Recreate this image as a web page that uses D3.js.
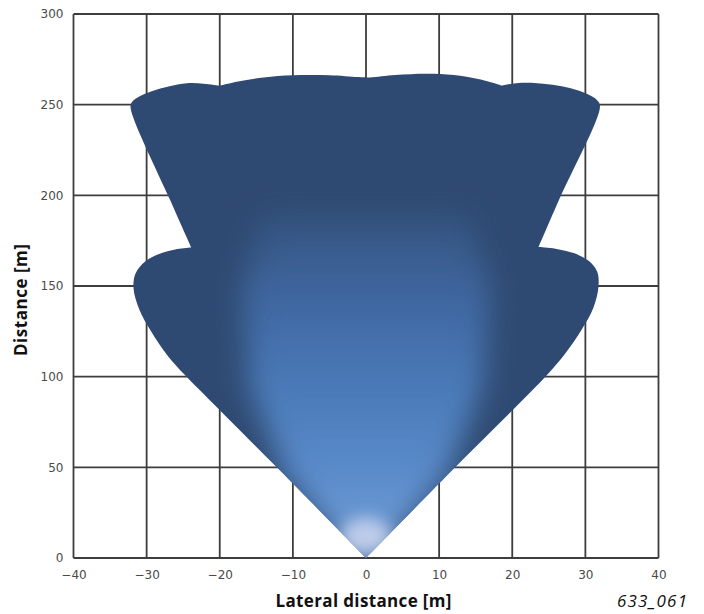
<!DOCTYPE html>
<html><head><meta charset="utf-8">
<script src="https://cdn.jsdelivr.net/npm/d3@7"></script>
<style>html,body{margin:0;padding:0;background:#fff;} svg{display:block}</style>
</head><body>
<svg id="chart" width="704" height="614"></svg>
<script>
// ---- data ----
const xTicks = [-40, -30, -20, -10, 0, 10, 20, 30, 40];
const yTicks = [0, 50, 100, 150, 200, 250, 300];

// outline of the detection area [lateral m, distance m, sharp corner flag]
const coverageOutline = [
  [0, 0, 1], [-12.2, 50], [-21.6, 88], [-24.8, 101], [-27.2, 112], [-29.4, 125],
  [-31, 137], [-31.8, 149], [-31.5, 157], [-30.2, 163.5], [-28.2, 167.8], [-25.8, 170.4], [-23.9, 171.3, 1],
  [-26.8, 197.5], [-32.2, 248.5],
  [-32, 251.5], [-31, 254.5], [-29.2, 257.5], [-27, 260], [-24.5, 261.8], [-22.2, 261.6], [-20, 260.5, 1],
  [-17.5, 262.8], [-14, 265], [-10, 266.2], [-5, 266.2], [-1, 265.2], [0.5, 265],
  [4, 266.3], [8.3, 267], [12, 266.3], [15.5, 264], [18.6, 260.5, 1],
  [20.5, 261.8], [23, 262], [25.5, 261], [28, 259], [30.2, 256], [31.6, 252.5], [32, 249],
  [26.4, 197.5], [23.6, 171.5, 1],
  [25.9, 170.6], [28.5, 168], [30.4, 164], [31.6, 158], [31.8, 150], [31.1, 138], [29.5, 126],
  [27.3, 113], [25, 102], [21.9, 89], [12.2, 50], [0, 0, 1]
];

// brighter central beam region (soft-edged)
const brightCore = [
  [0, -8], [-11, 45], [-16, 95], [-17, 150], [-14, 188], [14, 188], [17, 150], [16, 95], [11, 45]
];
const glowCenter = [0, 12];
const glowRadius = [3.5, 10];

const xTitle = "Lateral distance [m]";
const yTitle = "Distance [m]";
const figureId = "633_061";

// ---- drawing ----
const svg = d3.select("#chart");
const x = d3.scaleLinear().domain([-40, 40]).range([73.5, 658.5]);
const y = d3.scaleLinear().domain([0, 300]).range([558, 14]);

const defs = svg.append("defs");
const line = d3.line().x(d => x(d[0])).y(d => y(d[1])).curve(d3.curveCatmullRom.alpha(0.5));
// a repeated point gives the Catmull-Rom curve a sharp corner there
const outlinePts = coverageOutline.flatMap(d => d[2] ? [d, d] : [d]);
const outlinePath = line(outlinePts);

defs.append("clipPath").attr("id", "clipShape")
  .append("path").attr("d", outlinePath);

const blur = defs.append("filter").attr("id", "blurBig")
  .attr("x", "-50%").attr("y", "-50%").attr("width", "200%").attr("height", "200%");
blur.append("feGaussianBlur").attr("stdDeviation", 14);
const blur2 = defs.append("filter").attr("id", "blurSmall")
  .attr("x", "-100%").attr("y", "-100%").attr("width", "300%").attr("height", "300%");
blur2.append("feGaussianBlur").attr("stdDeviation", 8);

const grad = defs.append("linearGradient").attr("id", "coreGrad")
  .attr("x1", 0).attr("y1", 1).attr("x2", 0).attr("y2", 0);
[[0, "#7aa6dc"], [0.28, "#5a8bca"], [0.52, "#4a7ab8"], [0.75, "#4068a2"], [1, "#34547f"]]
  .forEach(s => grad.append("stop").attr("offset", s[0]).attr("stop-color", s[1]));

// grid
const grid = svg.append("g").attr("stroke", "#3d3d3d").attr("stroke-width", 1.8);
grid.selectAll("line.v").data(xTicks).join("line")
  .attr("x1", d => x(d)).attr("x2", d => x(d)).attr("y1", y(0)).attr("y2", y(300));
grid.selectAll("line.h").data(yTicks).join("line")
  .attr("y1", d => y(d)).attr("y2", d => y(d)).attr("x1", x(-40)).attr("x2", x(40));

// coverage area
svg.append("path").attr("d", outlinePath).attr("fill", "#2f4a72");
const inner = svg.append("g").attr("clip-path", "url(#clipShape)");
inner.append("path")
  .attr("d", d3.line().x(d => x(d[0])).y(d => y(d[1])).curve(d3.curveLinearClosed)(brightCore))
  .attr("fill", "url(#coreGrad)").attr("filter", "url(#blurBig)");
inner.append("ellipse")
  .attr("cx", x(glowCenter[0])).attr("cy", y(glowCenter[1]))
  .attr("rx", x(glowRadius[0]) - x(0)).attr("ry", y(0) - y(glowRadius[1]))
  .attr("fill", "#cdd6ee").attr("opacity", 0.85).attr("filter", "url(#blurSmall)");

// axes
const xAxis = svg.append("g").attr("transform", `translate(0,${y(0)})`)
  .call(d3.axisBottom(x).tickValues(xTicks).tickSize(0).tickPadding(12));
const yAxis = svg.append("g").attr("transform", `translate(${x(-40)},0)`)
  .call(d3.axisLeft(y).tickValues(yTicks).tickSize(0).tickPadding(10));
[xAxis, yAxis].forEach(a => {
  a.select(".domain").remove();
  a.selectAll("text").attr("font-family", "DejaVu Sans").attr("font-size", 12).attr("fill", "#4a4a4a");
});

// titles
svg.append("text").attr("x", 363.5).attr("y", 607).attr("text-anchor", "middle")
  .attr("font-family", "Open Sans").attr("font-weight", "bold").attr("font-size", 17)
  .attr("textLength", 176).attr("lengthAdjust", "spacing")
  .attr("fill", "#111").text(xTitle);
svg.append("text").attr("transform", "translate(27,300) rotate(-90)").attr("text-anchor", "middle")
  .attr("font-family", "Open Sans").attr("font-weight", "bold").attr("font-size", 17)
  .attr("textLength", 112).attr("lengthAdjust", "spacing")
  .attr("fill", "#111").text(yTitle);
svg.append("text").attr("x", 687).attr("y", 607).attr("text-anchor", "end")
  .attr("font-family", "Open Sans").attr("font-style", "italic").attr("font-size", 17)
  .attr("textLength", 70).attr("lengthAdjust", "spacing")
  .attr("fill", "#111").text(figureId);
</script>
</body></html>
